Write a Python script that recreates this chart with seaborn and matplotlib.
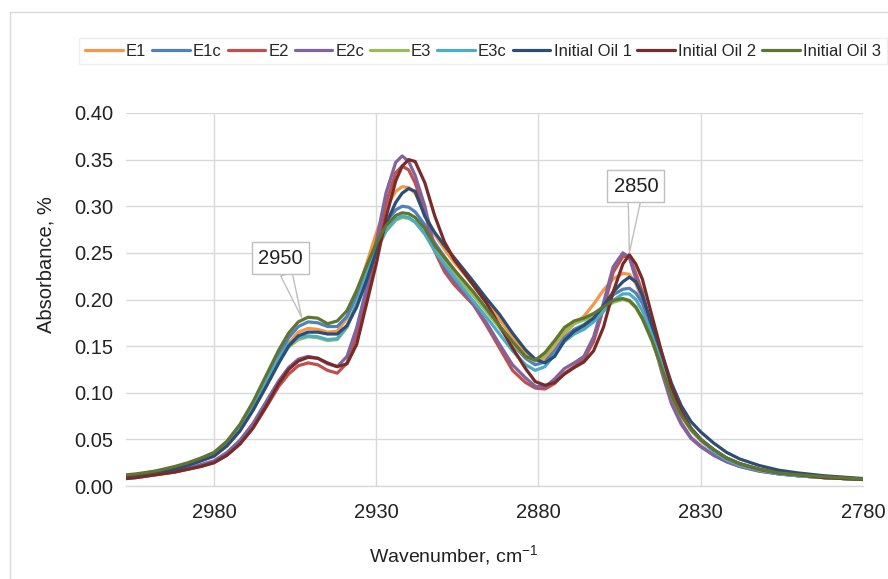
import numpy as np
import pandas as pd
import matplotlib
matplotlib.use("Agg")
import matplotlib.pyplot as plt
import seaborn as sns
from matplotlib.lines import Line2D
from matplotlib.ticker import FormatStrFormatter

sns.set_theme(style="white")
plt.rcParams['font.family'] = ['Liberation Sans', 'DejaVu Sans']
plt.rcParams['mathtext.fontset'] = 'custom'
plt.rcParams['mathtext.rm'] = 'Liberation Sans'
plt.rcParams['mathtext.default'] = 'regular'

wavenumber = [3016, 3010, 3004, 2998, 2992, 2988, 2984, 2980, 2976, 2972, 2968, 2964, 2960, 2957, 2954,
              2951, 2948, 2945, 2942, 2939, 2936, 2933, 2930, 2927, 2924, 2922, 2920, 2918, 2915, 2912,
              2909, 2906, 2903, 2900, 2896, 2892, 2888, 2884, 2881, 2878, 2875, 2872, 2869, 2866, 2863,
              2860, 2857, 2854, 2852, 2850, 2848, 2845, 2842, 2839, 2836, 2833, 2830, 2826, 2822, 2818,
              2812, 2806, 2800, 2792, 2780]

e1 = [.008, .010, .012, .015, .018, .022, .027, .032, .043, .059, .081, .107, .134, .153, .165, .169, .168,
      .165, .166, .180, .206, .238, .271, .299, .316, .321, .320, .314, .292, .270, .254, .240, .228, .215,
      .197, .179, .160, .143, .135, .137, .148, .163, .174, .182, .195, .210, .222, .228, .227, .217, .200,
      .163, .132, .101, .077, .060, .049, .038, .030, .024, .018, .014, .012, .009, .007]
e1c = [.008, .010, .012, .015, .019, .023, .028, .033, .045, .062, .085, .112, .140, .159, .171, .176, .175,
       .171, .171, .182, .204, .232, .260, .283, .296, .300, .299, .294, .280, .261, .246, .232, .218, .205,
       .188, .170, .152, .137, .130, .133, .145, .159, .168, .173, .181, .193, .205, .211, .212, .207, .196,
       .170, .138, .105, .079, .062, .050, .038, .029, .023, .017, .014, .011, .009, .007]
e2 = [.006, .007, .009, .012, .015, .018, .021, .025, .033, .045, .062, .084, .107, .120, .129, .132, .130,
      .124, .121, .132, .162, .204, .253, .303, .336, .343, .339, .325, .294, .252, .230, .216, .205, .194,
      .172, .148, .124, .111, .105, .104, .110, .121, .128, .136, .155, .190, .229, .246, .246, .228, .208,
      .166, .126, .091, .068, .052, .043, .033, .026, .021, .016, .013, .011, .009, .007]
e2c = [.007, .008, .010, .013, .016, .019, .023, .027, .036, .049, .067, .090, .113, .127, .136, .139, .137,
       .131, .128, .139, .170, .212, .262, .314, .347, .354, .348, .333, .300, .255, .234, .220, .208, .195,
       .175, .152, .130, .116, .107, .106, .115, .126, .132, .139, .160, .196, .235, .250, .245, .222, .202,
       .160, .122, .088, .066, .051, .042, .033, .026, .021, .016, .013, .011, .009, .007]
e3 = [.008, .010, .012, .015, .019, .023, .028, .033, .045, .061, .083, .108, .133, .149, .157, .160, .159,
      .156, .157, .170, .195, .225, .252, .273, .285, .288, .287, .283, .271, .254, .241, .228, .216, .204,
      .187, .170, .153, .139, .134, .140, .153, .166, .174, .178, .183, .190, .197, .200, .198, .191, .179,
      .155, .126, .097, .075, .060, .049, .038, .029, .023, .017, .014, .011, .009, .007]
e3c = [.009, .010, .012, .016, .020, .024, .029, .035, .047, .064, .087, .112, .137, .152, .159, .161, .160,
       .157, .158, .171, .196, .226, .253, .274, .286, .2895, .288, .283, .270, .252, .238, .224, .211, .198,
       .181, .163, .145, .130, .124, .128, .141, .155, .163, .168, .176, .187, .199, .206, .206, .200, .188,
       .162, .130, .099, .076, .060, .049, .037, .028, .022, .017, .013, .011, .009, .007]
oil1 = [.008, .010, .012, .015, .018, .022, .027, .032, .043, .059, .081, .106, .132, .150, .161, .165, .165,
        .163, .163, .172, .192, .220, .251, .281, .304, .314, .319, .316, .289, .272, .258, .245, .232, .219,
        .201, .184, .164, .146, .136, .132, .139, .156, .166, .172, .180, .193, .208, .219, .224, .219, .205,
        .172, .142, .110, .086, .069, .058, .046, .036, .029, .022, .017, .014, .011, .008]
oil2 = [.006, .007, .009, .012, .015, .018, .021, .025, .033, .045, .062, .085, .110, .125, .134, .138, .137,
        .132, .128, .131, .152, .195, .238, .288, .327, .343, .350, .348, .325, .290, .262, .243, .229, .215,
        .196, .172, .148, .126, .112, .108, .111, .120, .127, .133, .145, .170, .208, .238, .248, .238, .222,
        .182, .143, .106, .080, .062, .050, .039, .030, .024, .018, .014, .012, .009, .007]
oil3 = [.009, .011, .013, .016, .021, .025, .030, .036, .048, .066, .090, .118, .146, .164, .176, .181, .180,
        .174, .177, .188, .210, .236, .260, .279, .290, .293, .292, .288, .276, .258, .245, .232, .220, .208,
        .190, .172, .155, .139, .135, .143, .156, .170, .177, .180, .185, .192, .199, .201, .199, .192, .180,
        .156, .126, .097, .076, .061, .050, .039, .030, .024, .018, .014, .012, .010, .0075]

series_names = ["E1", "E1c", "E2", "E2c", "E3", "E3c", "Initial Oil 1", "Initial Oil 2", "Initial Oil 3"]
series_values = [e1, e1c, e2, e2c, e3, e3c, oil1, oil2, oil3]
series_colors = ["#F79646", "#4F81BD", "#C0504D", "#8064A2", "#9BBB59", "#4BACC6",
                 "#2C4D75", "#772C2A", "#5F7530"]

x_ticks = [2980, 2930, 2880, 2830, 2780]
y_ticks = [0.00, 0.05, 0.10, 0.15, 0.20, 0.25, 0.30, 0.35, 0.40]

callout_labels = ["2950", "2850"]
callout_points = [(2953, 0.181), (2852, 0.250)]
callout_text_pos = [(2959.4, 0.2445), (2850.0, 0.3217)]

rows = []
for name, vals in zip(series_names, series_values):
    for w, v in zip(wavenumber, vals):
        rows.append((w, v, name))
df = pd.DataFrame(rows, columns=["Wavenumber", "Absorbance", "Sample"])

W, H = 888, 579
L, R, T, B = 126, 863, 113, 486
fig = plt.figure(figsize=(W / 100, H / 100), dpi=100)
ax = fig.add_axes([L / W, 1 - B / H, (R - L) / W, (B - T) / H])

sns.lineplot(data=df, x="Wavenumber", y="Absorbance", hue="Sample", hue_order=series_names,
             palette=dict(zip(series_names, series_colors)), linewidth=2.3, ax=ax,
             legend=False, estimator=None)

ax.set_xlim(3007.1, 2780)
ax.set_ylim(0, 0.40)
ax.set_xticks(x_ticks)
ax.set_yticks(y_ticks)
ax.yaxis.set_major_formatter(FormatStrFormatter("%.2f"))
ax.grid(True, color="#d9d9d9", linewidth=1.0)
ax.set_axisbelow(True)
for s in ["top", "right", "left"]:
    ax.spines[s].set_visible(False)
ax.spines["bottom"].set_color("#d9d9d9")
ax.spines["bottom"].set_linewidth(1.0)
ax.tick_params(axis="both", length=0, labelsize=14.5, colors="#222222")
ax.tick_params(axis="y", pad=9)
ax.tick_params(axis="x", pad=12)

ax.set_xlabel("Wavenumber, cm$^{-1}$", fontsize=14, color="#222222")
ax.set_ylabel("Absorbance, %", fontsize=14.5, color="#222222")
ax.xaxis.set_label_coords((454 - L) / (R - L), -(543 - B) / (B - T))
ax.yaxis.set_label_coords(-(L - 56) / (R - L), (B - 265) / (B - T))

for lab, pt, tp in zip(callout_labels, callout_points, callout_text_pos):
    ax.annotate(lab, xy=pt, xytext=tp, textcoords="data", ha="center", va="center",
                fontsize=14.5, color="#222222",
                bbox=dict(boxstyle="square,pad=0.3", fc="white", ec="#bfbfbf", lw=1.0),
                arrowprops=dict(arrowstyle="wedge,tail_width=0.6,shrink_factor=0.5",
                                fc="white", ec="#bfbfbf", lw=1.0, shrinkA=0, shrinkB=0),
                zorder=10)

handles = [Line2D([0], [0], color=c, lw=2.3) for c in series_colors]
leg = fig.legend(handles, series_names, loc="center", bbox_to_anchor=(483 / W, 1 - 51 / H),
                 ncol=9, fontsize=12, handlelength=2.25, handletextpad=0.2, columnspacing=0.35,
                 frameon=True, fancybox=False, borderpad=0.35, borderaxespad=0)
leg.get_frame().set_edgecolor("#ebebeb")
leg.get_frame().set_linewidth(1.0)

fig.add_artist(Line2D([10 / W, 10 / W], [0, 1 - 12 / H], transform=fig.transFigure,
                      color="#d9d9d9", lw=1.0))
fig.add_artist(Line2D([10 / W, 1], [1 - 12 / H, 1 - 12 / H], transform=fig.transFigure,
                      color="#d9d9d9", lw=1.0))

fig.savefig("out.png", dpi=100, facecolor="white")
